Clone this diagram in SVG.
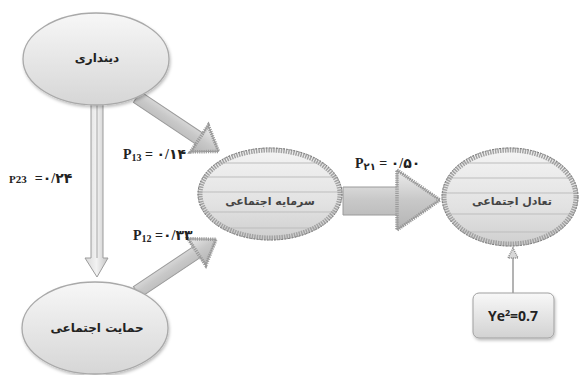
<svg xmlns="http://www.w3.org/2000/svg" width="582" height="375" viewBox="0 0 582 375">
<defs>
<linearGradient id="gEl" x1="0" y1="0" x2="0" y2="1">
<stop offset="0" stop-color="#f7f7f7"/><stop offset="1" stop-color="#d6d6d6"/>
</linearGradient>
<linearGradient id="gTx" x1="0" y1="0" x2="0" y2="1">
<stop offset="0" stop-color="#f4f4f4"/><stop offset="0.6" stop-color="#e2e2e2"/><stop offset="1" stop-color="#cfcfcf"/>
</linearGradient>
<linearGradient id="gAr" x1="0" y1="0" x2="0" y2="1">
<stop offset="0" stop-color="#ececec"/><stop offset="0.5" stop-color="#c8c8c8"/><stop offset="1" stop-color="#b4b4b4"/>
</linearGradient>
<linearGradient id="gV" x1="0" y1="0" x2="1" y2="0">
<stop offset="0" stop-color="#d8d8d8"/><stop offset="0.5" stop-color="#f2f2f2"/><stop offset="1" stop-color="#c4c4c4"/>
</linearGradient>
<linearGradient id="gBox" x1="0" y1="0" x2="0" y2="1">
<stop offset="0" stop-color="#f8f8f8"/><stop offset="1" stop-color="#d2d2d2"/>
</linearGradient>
<clipPath id="c2"><ellipse cx="270" cy="194" rx="72" ry="46"/></clipPath>
<clipPath id="c3"><ellipse cx="510" cy="197" rx="68" ry="49"/></clipPath>
<filter id="sh" x="-20%" y="-20%" width="140%" height="140%">
<feDropShadow dx="1" dy="2" stdDeviation="1.5" flood-color="#000" flood-opacity="0.25"/>
</filter>
</defs>
<style>
.el{fill:url(#gEl);stroke:#a9a9a9;stroke-width:1.3}
.tx{fill:url(#gTx)}
.grain{fill:none;stroke:#a2a2a2;stroke-width:5;stroke-dasharray:1.5 1}
.grain2{fill:none;stroke:#7a7a7a;stroke-width:1;stroke-dasharray:2 1.5}
.stripe{stroke:#bdbdbd;stroke-width:1}
.ar{fill:url(#gAr);stroke:#9a9a9a;stroke-width:1}
.head{fill:none;stroke:#9a9a9a;stroke-width:3.5;stroke-dasharray:1.2 1}
.fa{font-family:"DejaVu Sans",sans-serif;font-weight:bold;font-size:12px;fill:#222;text-anchor:middle}
.fa2{font-family:"DejaVu Sans",sans-serif;font-weight:bold;font-size:11px;fill:#444;text-anchor:middle}
.pl{font-family:"Liberation Serif","DejaVu Sans",serif;font-weight:bold;font-size:14px;fill:#222}
.sub{font-size:10px}
</style>

<g id="connectors">
<!-- vertical P23 arrow -->
<polygon points="91,103 103,103 103,258 108,258 97,277 85,258 91,258" fill="url(#gV)" stroke="#9c9c9c" stroke-width="1"/>
<line x1="97" y1="103" x2="97" y2="258" stroke="#a6a6a6" stroke-width="1"/>
<!-- P13 arrow -->
<g transform="translate(137,97) rotate(33.7)">
<polygon class="ar" points="0,-6.5 75,-6.5 75,-16 98,0 75,16 75,6.5 0,6.5"/>
<polygon class="head" points="75,-16 98,0 75,16"/>
</g>
<!-- P12 arrow -->
<g transform="translate(137,292) rotate(-33.7)">
<polygon class="ar" points="0,-6.5 72,-6.5 72,-16 95,0 72,16 72,6.5 0,6.5"/>
<polygon class="head" points="72,-16 95,0 72,16"/>
</g>
<!-- P21 arrow -->
<polygon class="ar" points="343,187 397,187 397,170 440,200 397,230 397,215 343,215"/>
<polygon class="head" points="397,170 440,200 397,230"/>
<!-- Ye2 arrow -->
<line x1="513" y1="293" x2="513" y2="256" stroke="#9a9a9a" stroke-width="1.5"/>
<polygon points="513,248 508,258 518,258" fill="#d8d8d8" stroke="#8a8a8a" stroke-width="1.5" stroke-dasharray="1 1"/>
<text class="pl" x="123" y="159">P<tspan class="sub" dy="2">13</tspan><tspan dy="-2"> = ۰/۱۴</tspan></text>
<text class="pl" x="133" y="240">P<tspan class="sub" dy="2">12</tspan><tspan dy="-2"> =۰/۳۳</tspan></text>
<text class="pl" x="9" y="183"><tspan font-size="11">P23</tspan><tspan dx="8">=۰/۲۴</tspan></text>
<text class="pl" x="355" y="168">P<tspan class="sub" dy="2">۲۱</tspan><tspan dy="-2"> = ۰/۵۰</tspan></text>
</g>

<g id="n1">
<ellipse class="el" cx="96" cy="59" rx="73" ry="46" filter="url(#sh)"/>
<text class="fa" x="97" y="62">دینداری</text>
</g>

<g id="n4">
<ellipse class="el" cx="95" cy="328" rx="73" ry="46" filter="url(#sh)"/>
<text class="fa" x="97" y="332">حمایت اجتماعی</text>
</g>

<g id="n2">
<ellipse class="tx" cx="270" cy="194" rx="72" ry="46"/>
<g clip-path="url(#c2)">
<line class="stripe" x1="190" y1="163" x2="350" y2="163"/>
<line class="stripe" x1="190" y1="177" x2="350" y2="177"/>
<line class="stripe" x1="190" y1="192" x2="350" y2="192"/>
<line class="stripe" x1="190" y1="212" x2="350" y2="212"/>
<line class="stripe" x1="190" y1="228" x2="350" y2="228"/>
</g>
<ellipse class="grain" cx="270" cy="194" rx="70" ry="44"/>
<ellipse class="grain2" cx="270" cy="194" rx="72" ry="46"/>
<text class="fa2" x="270" y="205">سرمایه اجتماعی</text>
</g>

<g id="n3">
<ellipse class="tx" cx="510" cy="197" rx="68" ry="49"/>
<g clip-path="url(#c3)">
<line class="stripe" x1="440" y1="163" x2="580" y2="163"/>
<line class="stripe" x1="440" y1="178" x2="580" y2="178"/>
<line class="stripe" x1="440" y1="193" x2="580" y2="193"/>
<line class="stripe" x1="440" y1="214" x2="580" y2="214"/>
<line class="stripe" x1="440" y1="232" x2="580" y2="232"/>
</g>
<ellipse class="grain" cx="510" cy="197" rx="66" ry="47"/>
<ellipse class="grain2" cx="510" cy="197" rx="68" ry="49"/>
<text class="fa2" x="512" y="205">تعادل اجتماعی</text>
</g>

<g id="n5">
<rect x="473" y="293" width="81" height="45" rx="6" fill="url(#gBox)" stroke="#a0a0a0" stroke-width="1" filter="url(#sh)"/>
<text x="513" y="321" font-family="'Open Sans','Noto Sans',sans-serif" font-weight="bold" font-size="14" fill="#222" text-anchor="middle">Ye<tspan font-size="9" dy="-5">2</tspan><tspan dy="5">=0.7</tspan></text>
</g>
</svg>
